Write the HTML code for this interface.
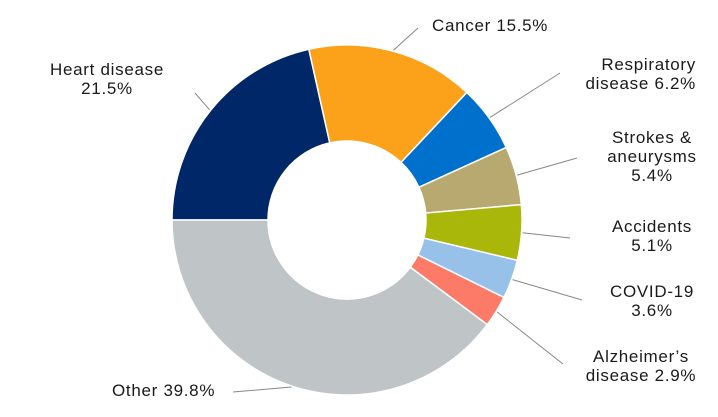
<!DOCTYPE html>
<html><head><meta charset="utf-8"><style>
body{margin:0;background:#fff;}
svg{display:block;font-family:"Liberation Sans",sans-serif;}
text{font-size:17px;fill:#1a1a1a;letter-spacing:0.7px;}
</style></head><body>
<svg id="chart" width="718" height="417" viewBox="0 0 718 417"></svg>
<script>
const categories=["Heart disease","Cancer","Respiratory disease","Strokes & aneurysms","Accidents","COVID-19","Alzheimer's disease","Other"];
const values=[21.5,15.5,6.2,5.4,5.1,3.6,2.9,39.8];
const colors=["#002868","#FBA21A","#0070CD","#B7A970","#A8B70A","#98C1EA","#FB7A68","#BFC4C7"];
const labelLines=[["Heart disease","21.5%"],["Cancer 15.5%"],["Respiratory","disease 6.2%"],["Strokes &","aneurysms","5.4%"],["Accidents","5.1%"],["COVID-19","3.6%"],["Alzheimer\u2019s","disease  2.9%"],["Other  39.8%"]];
const ns="http://www.w3.org/2000/svg";
const svg=document.getElementById("chart");
const cx=347,cy=220,R=175,r=79;
const total=values.reduce((a,b)=>a+b,0);
function pt(ang,rad){const a=ang*Math.PI/180;return [cx+rad*Math.sin(a),cy-rad*Math.cos(a)];}
let start=270;
const labelPos=[[107,75,"middle"],[432,31,"start"],[696,70,"end"],[652,143,"middle"],[652,232,"middle"],[652,297,"middle"],[641,362,"middle"],[112,396,"start"]];
const lineEnd=[[195,93],[418,28],[560,73],[577,158],[570,238],[582,300],[563,364],[233,392]];
values.forEach((v,i)=>{
  const sweep=v/total*360,end=start+sweep;
  const [x1,y1]=pt(start,R),[x2,y2]=pt(end,R),[x3,y3]=pt(end,r),[x4,y4]=pt(start,r);
  const lg=sweep>180?1:0;
  const p=document.createElementNS(ns,"path");
  p.setAttribute("d",`M${x1},${y1}A${R},${R} 0 ${lg} 1 ${x2},${y2}L${x3},${y3}A${r},${r} 0 ${lg} 0 ${x4},${y4}Z`);
  p.setAttribute("fill",colors[i]);p.setAttribute("stroke","#fff");p.setAttribute("stroke-width","1.5");
  
  
  svg.appendChild(p);
  const mid=start+sweep/2;const [mx,my]=pt(mid,R+1);
  const l=document.createElementNS(ns,"line");
  l.setAttribute("x1",lineEnd[i][0]);l.setAttribute("y1",lineEnd[i][1]);
  l.setAttribute("x2",mx);l.setAttribute("y2",my);
  l.setAttribute("stroke","#888");l.setAttribute("stroke-width","1");
  
  
  svg.appendChild(l);
  const t=document.createElementNS(ns,"text");
  t.setAttribute("x",labelPos[i][0]);t.setAttribute("y",labelPos[i][1]);t.setAttribute("text-anchor",labelPos[i][2]);
  
  
  labelLines[i].forEach((s,j)=>{const ts=document.createElementNS(ns,"tspan");ts.setAttribute("x",labelPos[i][0]);ts.setAttribute("dy",j?19:0);ts.textContent=s;t.appendChild(ts);});
  svg.appendChild(t);
  start=end;
});
</script>
</body></html>
